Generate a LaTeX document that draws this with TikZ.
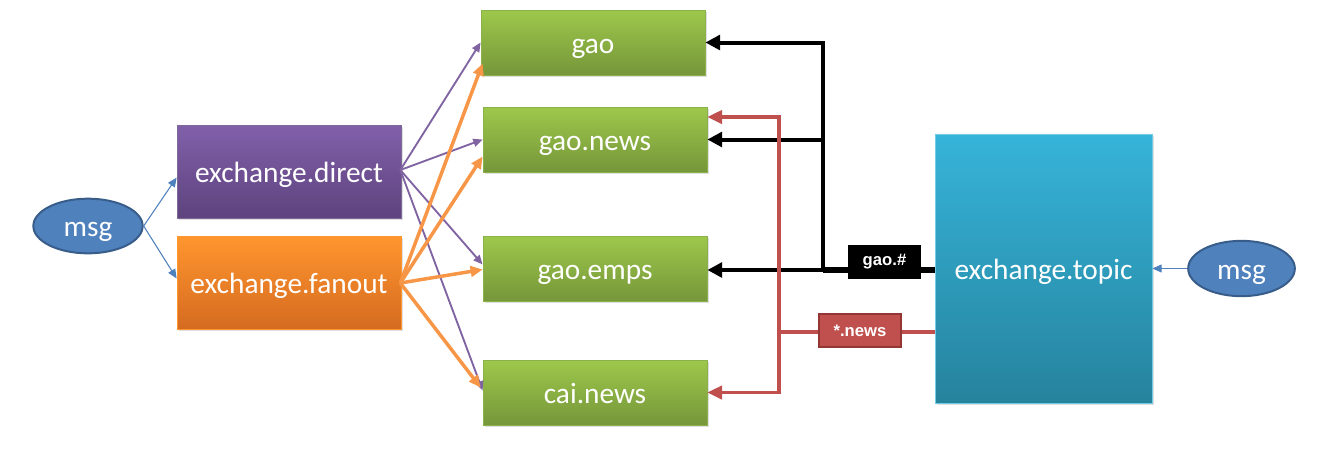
\documentclass[tikz,border=0pt]{standalone}
\usepackage{fontspec}
\setmainfont{Carlito}
\newfontfamily\labfont{Liberation Sans}
\usetikzlibrary{shapes.geometric,arrows.meta,shadows,calc,backgrounds}
\definecolor{purpT}{HTML}{8160AA}
\definecolor{purpB}{HTML}{5E437E}
\definecolor{oranT}{HTML}{FF962E}
\definecolor{oranB}{HTML}{D56B20}
\definecolor{greenT}{HTML}{9DC84B}
\definecolor{greenB}{HTML}{76963A}
\definecolor{greenD}{HTML}{8AB14A}
\definecolor{topT}{HTML}{36B4D9}
\definecolor{topB}{HTML}{26839E}
\definecolor{ellF}{HTML}{4F81BD}
\definecolor{ellD}{HTML}{385D8A}
\definecolor{purpL}{HTML}{8064A2}
\definecolor{oranL}{HTML}{F79646}
\definecolor{redL}{HTML}{C0504D}
\definecolor{redD}{HTML}{943634}
\definecolor{blueL}{HTML}{4F81BD}
\tikzset{
  box/.style={rectangle, shading=axis, text=white, font=\fontsize{22}{26}\selectfont,
    inner sep=0pt, text height=16.5pt, text depth=0pt,
    drop shadow={opacity=0.25, shadow xshift=1.5pt, shadow yshift=-1.5pt}},
  greenbox/.style={box, top color=greenT, bottom color=greenB, draw=greenD, line width=0.6pt,
    minimum width=168pt, minimum height=48.75pt},
  exbox/.style={box, minimum width=168pt, minimum height=69.75pt},
  msgnode/.style={ellipse, fill=ellF, draw=ellD, line width=1.5pt, text=white,
    font=\fontsize{22}{26}\selectfont, inner sep=0pt, text height=16pt, text depth=0pt,
    minimum width=82pt, minimum height=41pt},
  tag/.style={rectangle, text=white, font=\labfont\bfseries\fontsize{12.5}{14}\selectfont, inner sep=0pt},
  blk/.style={draw=black, line width=3pt, -{Triangle[length=11pt,width=11pt]}},
  red/.style={draw=redL, line width=2.4pt, -{Triangle[length=11pt,width=10pt]}},
  purp/.style={draw=purpL, line width=1.4pt, -{Triangle[length=7pt,width=6pt]}},
  oran/.style={draw=oranL, line width=2.6pt, -{Triangle[length=9pt,width=8pt]}},
  blu/.style={draw=blueL, line width=0.8pt, -{Triangle[length=7pt,width=6pt]}},
}
\begin{document}
\begin{tikzpicture}[x=0.75pt,y=-0.75pt]
\useasboundingbox (0,0) rectangle (1341,458);

\node[msgnode] (msgL) at (88,226) {msg};
\node[exbox, top color=purpT, bottom color=purpB, draw=purpB!80!white, line width=0.5pt] (direct) at (289,171.5) {exchange.direct};
\node[exbox, top color=oranT, bottom color=oranB, draw=oranT, line width=0.5pt] (fanout) at (289,282.5) {exchange.fanout};

\node[greenbox] (gao) at (593,42.5) {gao};
\node[greenbox] (gaonews) at (595,139.5) {gao.news};
\node[greenbox] (gaoemps) at (595,268.5) {gao.emps};
\node[greenbox] (cainews) at (595,392.5) {cai.news};

\node[box, top color=topT, bottom color=topB, draw=topT!70!white, line width=0.5pt,
  minimum width=162.75pt, minimum height=201.75pt] (topic) at (1043.5,268.5) {exchange.topic};
\node[msgnode, minimum width=80pt, minimum height=41.5pt] (msgR) at (1241.5,268.5) {msg};

\node[tag, fill=black, minimum width=54.75pt, minimum height=25.5pt] (lab1) at (884.5,262) {gao.\#};
\node[tag, fill=redL, draw=redD, line width=1.4pt, minimum width=62pt, minimum height=25pt] (lab2) at (860,330.5) {*.news};

\coordinate (bj) at (823,270);
\coordinate (rj) at (779,332);

% left blue arrows
\draw[blu] (msgL.east) -- ($(direct.west)+(0,6)$);
\draw[blu] (msgL.east) -- ($(fanout.west)+(0,-4)$);
\draw[blu] (msgR.west) -- (topic.east);

% purple lines
\coordinate (ds) at ($(direct.east)+(-1,-1.5)$);
\draw[purp] (ds) -- (gao.west);
\draw[purp] (ds) -- (gaonews.west);
\draw[purp] (ds) -- ($(gaoemps.west)+(0,-4)$);
\draw[purp] (ds) -- ($(cainews.west)+(0,-2)$);

% orange lines
\coordinate (fs) at ($(fanout.east)+(-1,0.5)$);
\draw[oran] (fs) -- ($(gao.west)+(2,21)$);
\draw[oran] (fs) -- ($(gaonews.west)+(0,17)$);
\draw[oran] (fs) -- ($(gaoemps.west)+(0,1)$);
\draw[oran] (fs) -- ($(cainews.west)+(-2,-5)$);

% topic bindings
\draw[draw=black, line width=5pt] (topic.west |- bj) -- (lab1.east |- bj);
\draw[draw=black, line width=4.5pt] (lab1.west |- bj) -- (bj);
\draw[draw=redL, line width=2.6pt] (topic.west |- rj) -- (lab2.east |- rj);
\draw[draw=redL, line width=2.6pt] (lab2.west |- rj) -- (rj);
\draw[blk] ($(bj)+(0,2)$) |- (gao.east);
\draw[blk] (bj) |- (gaonews.east);
\draw[blk] (bj) -- (gaoemps.east |- bj);

\draw[red] (rj) |- (gaonews.east |- 0,117);
\draw[red] (rj) |- (cainews.east);
\end{tikzpicture}
\end{document}
